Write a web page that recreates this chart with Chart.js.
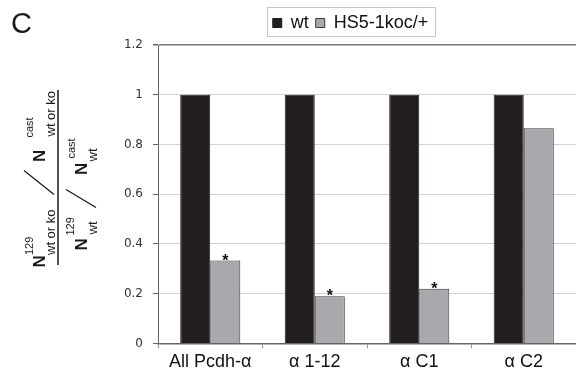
<!DOCTYPE html>
<html><head><meta charset="utf-8">
<script src="https://cdn.jsdelivr.net/npm/chart.js@4"></script>
<style>html,body{margin:0;padding:0;background:#fff}</style>
</head><body>
<canvas id="c" width="576" height="377" style="width:576px;height:377px;display:block"></canvas>
<script>
const categories = ['All Pcdh-α', 'α 1-12', 'α C1', 'α C2'];
const seriesNames = ['wt', 'HS5-1koc/+'];
const wtValues = [1, 1, 1, 1];
const hs5Values = [0.333, 0.19, 0.22, 0.865];
const significance = ['*', '*', '*', ''];
const yTickLabels = ['0', '0.2', '0.4', '0.6', '0.8', '1', '1.2'];
const panelLetter = 'C';
const titleParts = { main: 'N', sup1: '129', sup2: 'cast', subNum: 'wt or ko', subDen: 'wt' };

const SANS = '"Liberation Sans", Arial, Helvetica, sans-serif';

const extrasPlugin = {
  id: 'extras',
  afterInit(chart) {
    const lg = chart.legend;
    if (lg) {
      const orig = lg.fit.bind(lg);
      lg.fit = function () { orig(); this.height += 3; };
    }
  },
  afterDatasetsDraw(chart) {
    const ctx = chart.ctx;
    const meta = chart.getDatasetMeta(1);
    ctx.save();
    ctx.fillStyle = '#111';
    ctx.font = 'bold 16px ' + SANS;
    ctx.textAlign = 'center';
    ctx.textBaseline = 'alphabetic';
    meta.data.forEach((bar, i) => {
      if (significance[i]) ctx.fillText(significance[i], bar.x, bar.y + 5);
    });
    ctx.restore();
  },
  afterDraw(chart) {
    const ctx = chart.ctx;
    // legend frame
    const hb = chart.legend.legendHitBoxes;
    if (hb && hb.length) {
      const l = hb[0].left - 6;
      const r = hb[hb.length - 1].left + hb[hb.length - 1].width + 6;
      const t = hb[0].top - 7;
      const b = hb[0].top + hb[0].height + 4;
      ctx.save();
      ctx.strokeStyle = '#c8c8c8';
      ctx.lineWidth = 1;
      ctx.strokeRect(Math.round(l) + 0.5, Math.round(t) + 0.5, Math.round(r - l), Math.round(b - t));
      ctx.restore();
    }
    // panel letter
    ctx.save();
    ctx.fillStyle = '#1a1a1a';
    ctx.font = '29px ' + SANS;
    ctx.textBaseline = 'alphabetic';
    ctx.textAlign = 'left';
    ctx.fillText(panelLetter, 11, 33);
    ctx.restore();
    // y-axis title (fraction)
    ctx.save();
    ctx.translate(58, 177.5);
    ctx.rotate(-Math.PI / 2);
    ctx.fillStyle = '#1a1a1a';
    ctx.strokeStyle = '#1a1a1a';
    ctx.textAlign = 'left';
    ctx.textBaseline = 'alphabetic';
    const big = 'bold 17px ' + SANS;
    const sup = '11px ' + SANS;
    const sub = '13px ' + SANS;
    const put = (txt, f, x, y) => { ctx.font = f; ctx.fillText(txt, x, y); };
    // numerator
    put(titleParts.main, big, -90, -13);
    put(titleParts.sup1, sup, -77.5, -25);
    put(titleParts.subNum, sub, -77.5, -3);
    put(titleParts.main, big, 15.5, -13);
    put(titleParts.sup2, sup, 40, -25);
    put(titleParts.subNum, sub, 41, -3);
    // denominator
    put(titleParts.main, big, -73, 29);
    put(titleParts.sup1, sup, -58, 16);
    put(titleParts.subDen, sub, -57, 39);
    put(titleParts.main, big, 2.5, 29);
    put(titleParts.sup2, sup, 19, 17);
    put(titleParts.subDen, sub, 16, 39);
    ctx.lineWidth = 1.3;
    ctx.beginPath();
    ctx.moveTo(-17, -4); ctx.lineTo(7, -34);
    ctx.moveTo(-30, 38); ctx.lineTo(-12, 8);
    ctx.stroke();
    ctx.lineWidth = 1.5;
    ctx.beginPath();
    ctx.moveTo(-87.5, 0); ctx.lineTo(87.5, 0);
    ctx.stroke();
    ctx.restore();
  }
};

new Chart(document.getElementById('c'), {
  type: 'bar',
  data: {
    labels: categories,
    datasets: [
      { label: seriesNames[0], data: wtValues, backgroundColor: '#231f20', borderColor: '#231f20', borderWidth: 1,
        categoryPercentage: 0.575, barPercentage: 1 },
      { label: seriesNames[1], data: hs5Values, backgroundColor: '#a8a9ad', borderColor: '#3a3a3a', borderWidth: 1,
        categoryPercentage: 0.575, barPercentage: 1 }
    ]
  },
  options: {
    responsive: false,
    animation: false,
    devicePixelRatio: 1,
    layout: { padding: { left: 125, right: 0, top: 7, bottom: 1 } },
    plugins: {
      legend: {
        position: 'top',
        labels: {
          boxWidth: 9, boxHeight: 9, padding: 7, color: '#111',
          font: { family: SANS, size: 18 }
        }
      },
      tooltip: { enabled: false }
    },
    scales: {
      x: {
        grid: { display: true, drawOnChartArea: false, drawTicks: true, tickLength: 5, offset: true, color: '#999' },
        border: { display: true, color: '#666', width: 1.5 },
        ticks: { color: '#111', padding: 3, maxRotation: 0, font: { family: SANS, size: 18 } }
      },
      y: {
        min: 0, max: 1.2,
        afterFit(s) { s.width = 33; },
        grid: {
          color: (c) => (c.tick && c.tick.value > 1.19) ? '#777' : '#d2d2d2',
          lineWidth: (c) => (c.tick && c.tick.value > 1.19) ? 1.5 : 1,
          tickColor: '#666', tickLength: 5, drawTicks: true
        },
        border: { display: true, color: '#666', width: 1 },
        ticks: {
          stepSize: 0.2, padding: 10, color: '#333',
          font: { family: '"DejaVu Sans", Verdana, sans-serif', size: 12 },
          callback: (v, i) => yTickLabels[i]
        }
      }
    }
  },
  plugins: [extrasPlugin]
});
</script>
</body></html>
